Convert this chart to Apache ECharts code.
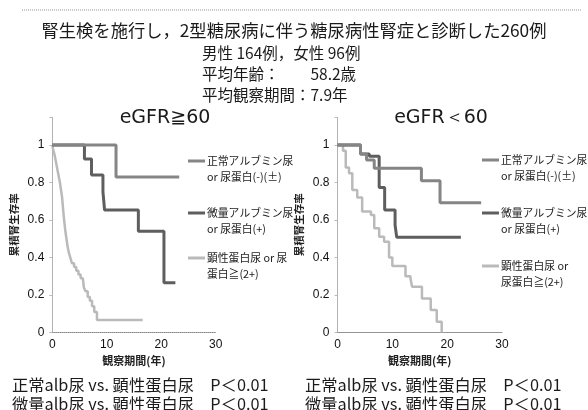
<!DOCTYPE html>
<html><head><meta charset="utf-8">
<script src="https://cdn.jsdelivr.net/npm/echarts@6/dist/echarts.min.js"></script>
<style>html,body{margin:0;padding:0;background:#fff}#c{width:588px;height:410px}</style>
</head><body><div id="c"></div>
<script>
// ---- data (years, cumulative renal survival) ----
const xTicks = [0, 10, 20, 30];
const yTicks = [0, 0.2, 0.4, 0.6, 0.8, 1];
const seriesNames = ['正常アルブミン尿 or 尿蛋白(-)(±)', '微量アルブミン尿 or 尿蛋白(+)', '顕性蛋白尿 or 尿蛋白≧(2+)'];

// eGFR >= 60
const hiNormalT = [0, 11.7, 23.3];
const hiNormalS = [1, 0.83, 0.83];
const hiMicroT = [0, 5.9, 7.2, 9.3, 9.6, 15.8, 20.5, 22.6];
const hiMicroS = [1, 0.925, 0.84, 0.75, 0.653, 0.54, 0.265, 0.265];
const hiOvertT = [0, 0.2, 0.4, 0.6, 0.8, 1.0, 1.2, 1.4, 1.6, 1.8, 1.95, 2.1, 2.25, 2.4, 2.6, 2.8, 3.0, 3.3, 3.6, 4.0, 4.4, 4.8, 5.2, 5.6, 5.8, 6.1, 6.5, 6.9, 7.3, 7.7, 8.2, 16.6];
const hiOvertS = [1, 0.97, 0.95, 0.92, 0.89, 0.86, 0.83, 0.80, 0.76, 0.72, 0.67, 0.62, 0.58, 0.54, 0.50, 0.46, 0.43, 0.40, 0.37, 0.35, 0.33, 0.31, 0.29, 0.28, 0.24, 0.22, 0.19, 0.17, 0.14, 0.11, 0.067, 0.067];

// eGFR < 60
const loNormalT = [0, 4.2, 5.3, 6.7, 15.3, 18.7, 26.2];
const loNormalS = [1, 0.952, 0.92, 0.876, 0.81, 0.692, 0.692];
const loMicroT = [0, 4.2, 5.8, 7.6, 8.6, 10.5, 10.8, 22.5];
const loMicroS = [1, 0.952, 0.94, 0.774, 0.653, 0.573, 0.508, 0.508];
const loOvertT = [0, 1.0, 1.5, 2.1, 2.7, 3.6, 4.5, 6.1, 6.7, 7.6, 8.5, 9.4, 10.0, 12.4, 13.3, 13.6, 15.4, 17.0, 18.1, 19.0];
const loOvertS = [1, 0.97, 0.88, 0.85, 0.76, 0.72, 0.645, 0.627, 0.556, 0.511, 0.484, 0.40, 0.355, 0.30, 0.289, 0.244, 0.182, 0.12, 0.058, 0];

// ---- texts ----
const mainTitle = '腎生検を施行し，2型糖尿病に伴う糖尿病性腎症と診断した260例';
const infoLines = ['男性 164例，女性 96例', '平均年齢：　　58.2歳', '平均観察期間：7.9年'];
const panelTitles = ['eGFR≧60', 'eGFR＜60'];
const yName = '累積腎生存率';
const xName = '観察期間(年)';
const legendLeft = ['正常アルブミン尿\nor 尿蛋白(-)(±)', '微量アルブミン尿\nor 尿蛋白(+)', '顕性蛋白尿 or 尿\n蛋白≧(2+)'];
const legendRight = ['正常アルブミン尿\nor 尿蛋白(-)(±)', '微量アルブミン尿\nor 尿蛋白(+)', '顕性蛋白尿 or\n尿蛋白≧(2+)'];
const pLines = ['正常alb尿 vs. 顕性蛋白尿　P＜0.01', '微量alb尿 vs. 顕性蛋白尿　P＜0.01'];

const colors = ['#858585', '#5e5e5e', '#bababa'];
const widths = [3, 3, 2.5];
const JP = '"Noto Sans CJK JP", sans-serif';

function pairs(t, s) { return t.map((v, i) => [v, s[i]]); }

const chart = echarts.init(document.getElementById('c'), null, {renderer: 'canvas'});

function xAxis(gi) {
  return {
    gridIndex: gi, type: 'value', min: 0, max: 30, interval: 10,
    name: xName, nameLocation: 'middle', nameGap: 13,
    nameTextStyle: {fontFamily: JP, fontSize: 11, fontWeight: 'bold', color: '#222'},
    axisLine: {lineStyle: {color: '#888', type: 'dotted', width: 1}},
    axisTick: {show: false},
    axisLabel: {margin: 6, fontSize: 12, color: '#111', fontFamily: 'Liberation Sans',
      formatter: v => xTicks.includes(v) ? String(v) : ''},
    splitLine: {show: false}
  };
}
function yAxis(gi) {
  return {
    gridIndex: gi, type: 'value', min: 0, max: 1.15, interval: 0.2,
    name: yName, nameLocation: 'middle', nameGap: 33, nameRotate: 90,
    nameTextStyle: {fontFamily: JP, fontSize: 10.5, fontWeight: 'bold', color: '#222'},
    axisLine: {lineStyle: {color: '#aaa', type: 'dotted', width: 1}},
    axisTick: {show: true, length: 3, lineStyle: {color: '#bbb'}},
    axisLabel: {margin: 8, fontSize: 12, color: '#111', fontFamily: 'Liberation Sans',
      formatter: v => {
        const r = Math.round(v * 10) / 10;
        return yTicks.some(t => Math.abs(t - r) < 1e-9) && v <= 1.0001 ? String(r) : '';
      }},
    splitLine: {show: false}
  };
}
function line(name, gi, t, s, k) {
  return {
    name: name, type: 'line', xAxisIndex: gi, yAxisIndex: gi,
    data: pairs(t, s), step: 'end', symbol: 'none', silent: true,
    lineStyle: {color: colors[k], width: widths[k]}, z: 3 - k
  };
}

function legendGroup(x, ys, labels) {
  const els = [];
  labels.forEach((lab, k) => {
    els.push({type: 'line', shape: {x1: x, y1: ys[k], x2: x + 17, y2: ys[k]},
      style: {stroke: colors[k], lineWidth: 3}});
    els.push({type: 'text', x: x + 19, y: ys[k] - 8,
      style: {text: lab, font: '10.8px ' + JP, fill: '#222', lineHeight: 16, textVerticalAlign: 'top'}});
  });
  return els;
}

const graphics = [
  {type: 'line', shape: {x1: 22, y1: 10, x2: 582, y2: 10}, style: {stroke: '#999', lineWidth: 1, lineDash: [1, 1]}},
  {type: 'text', x: 294, y: 30, style: {text: mainTitle, font: '17.3px ' + JP, fill: '#1a1a1a', textAlign: 'center', textVerticalAlign: 'middle'}},
  {type: 'text', x: 202, y: 53, style: {text: infoLines[0], font: '15.5px ' + JP, fill: '#1a1a1a', textVerticalAlign: 'middle'}},
  {type: 'text', x: 202, y: 74, style: {text: infoLines[1], font: '15.5px ' + JP, fill: '#1a1a1a', textVerticalAlign: 'middle'}},
  {type: 'text', x: 202, y: 95, style: {text: infoLines[2], font: '15.5px ' + JP, fill: '#1a1a1a', textVerticalAlign: 'middle'}},
  {type: 'text', x: 165, y: 118, style: {text: panelTitles[0], font: '19px "DejaVu Sans"', fill: '#1a1a1a', textAlign: 'center', textVerticalAlign: 'middle'}},
  {type: 'text', x: 441, y: 118, style: {text: panelTitles[1], font: '19px "DejaVu Sans"', fill: '#1a1a1a', textAlign: 'center', textVerticalAlign: 'middle'}},
  {type: 'text', x: 12, y: 385, style: {text: pLines[0], font: '16.3px ' + JP, fill: '#1a1a1a', textVerticalAlign: 'middle'}},
  {type: 'text', x: 12, y: 404, style: {text: pLines[1], font: '16.3px ' + JP, fill: '#1a1a1a', textVerticalAlign: 'middle'}},
  {type: 'text', x: 305, y: 385, style: {text: pLines[0], font: '16.3px ' + JP, fill: '#1a1a1a', textVerticalAlign: 'middle'}},
  {type: 'text', x: 305, y: 404, style: {text: pLines[1], font: '16.3px ' + JP, fill: '#1a1a1a', textVerticalAlign: 'middle'}}
].concat(legendGroup(188, [161, 213, 258], legendLeft))
 .concat(legendGroup(482, [160, 213, 266], legendRight));

chart.setOption({
  animation: false,
  backgroundColor: '#fff',
  grid: [
    {left: 52.3, width: 163.4, top: 116.9, bottom: 77.5},
    {left: 337.5, width: 164.5, top: 116.9, bottom: 77.5}
  ],
  xAxis: [xAxis(0), xAxis(1)],
  yAxis: [yAxis(0), yAxis(1)],
  series: [
    line(seriesNames[0], 0, hiNormalT, hiNormalS, 0),
    line(seriesNames[1], 0, hiMicroT, hiMicroS, 1),
    line(seriesNames[2], 0, hiOvertT, hiOvertS, 2),
    line(seriesNames[0], 1, loNormalT, loNormalS, 0),
    line(seriesNames[1], 1, loMicroT, loMicroS, 1),
    line(seriesNames[2], 1, loOvertT, loOvertS, 2)
  ],
  graphic: graphics
});
</script></body></html>
